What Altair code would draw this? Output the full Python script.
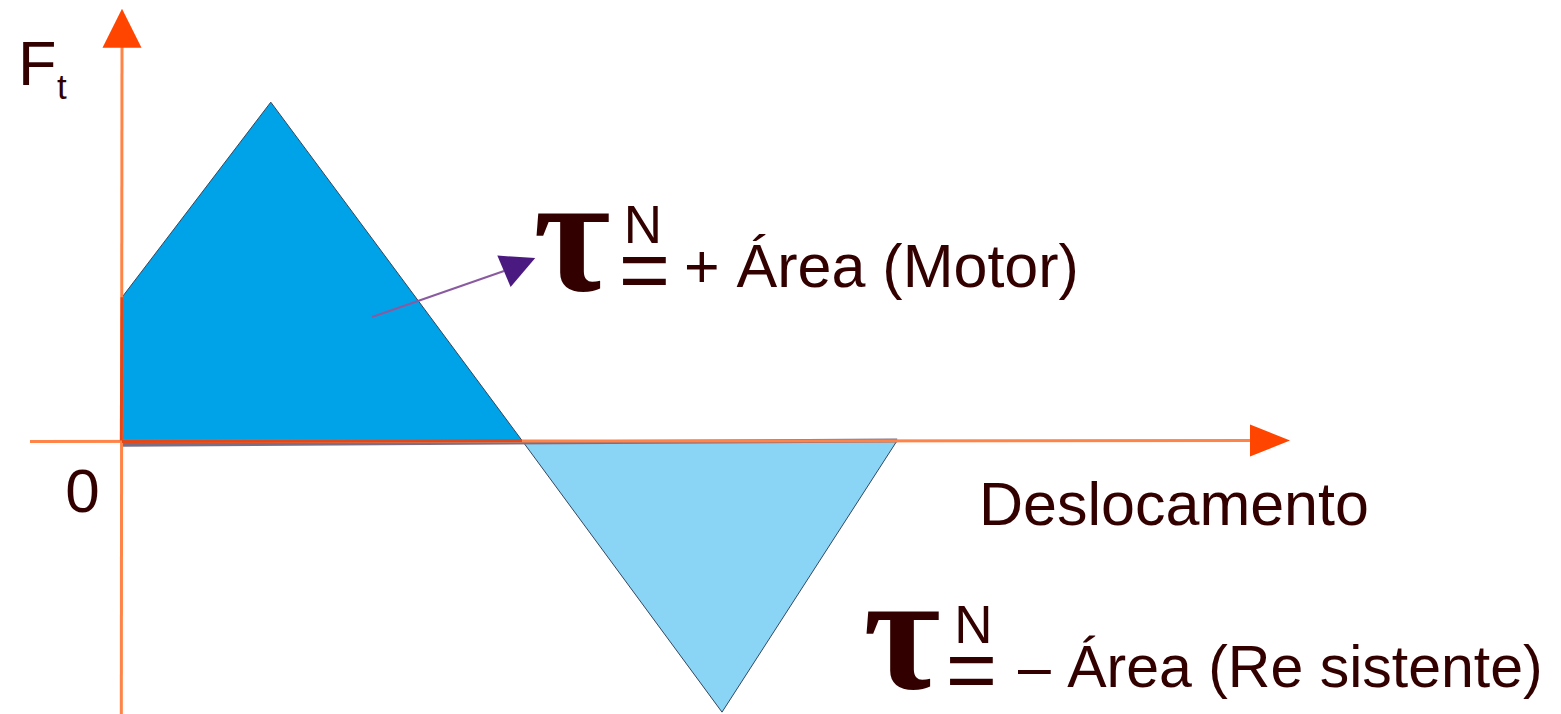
import altair as alt
import pandas as pd

# ---- data (displacement units, force units) ----
motor_x = [0.0, 3.72, 10.0]
motor_y = [4.25, 10.04, 0.0]
resist_x = [10.0, 15.0, 19.38]
resist_y = [0.0, -8.06, 0.0]

# axis extents (in data units)
x_axis_from, x_axis_to = -2.3, 28.33
y_axis_from, y_axis_to = -8.3, 11.74
x_arrow = (28.7, 0.0)
y_arrow = (0.0, 12.23)
# annotation arrow (data units)
ann_from = (6.25, 3.665)
ann_to = (9.55, 5.03)
ann_head = (9.94, 5.22)

W, H = 1545, 706
xs = alt.Scale(domain=[-2.85, 35.775], nice=False, zero=False)
ys = alt.Scale(domain=[12.834 - H / 33.7, 12.834], nice=False, zero=False)

TXT = "#330000"
AX = "#FF8447"
HEAD = "#FF4500"


def X(f="x"):
    return alt.X(f + ":Q", scale=xs, axis=None)


def Y(f="y"):
    return alt.Y(f + ":Q", scale=ys, axis=None)


motor_df = pd.DataFrame({"x": motor_x, "y": motor_y, "y0": [0.0] * len(motor_x)})
resist_df = pd.DataFrame({"x": resist_x, "y": resist_y, "y0": [0.0] * len(resist_x)})

motor = alt.Chart(motor_df).mark_area(
    orient="vertical", color="#00A3E8", stroke="#34475E", strokeWidth=1, opacity=1
).encode(x=X(), y=Y(), y2="y0:Q")

resist = alt.Chart(resist_df).mark_area(
    orient="vertical", color="#8AD4F6", stroke="#34475E", strokeWidth=1, opacity=1
).encode(x=X(), y=Y(), y2="y0:Q")


def rule(x, x2, y, y2, color, width, xoff=0, yoff=0):
    df = pd.DataFrame({"x": [x], "x2": [x2], "y": [y], "y2": [y2]})
    return alt.Chart(df).mark_rule(
        color=color, strokeWidth=width, xOffset=xoff, yOffset=yoff
    ).encode(x=X(), x2="x2:Q", y=Y(), y2="y2:Q")


gray_band = rule(motor_x[0], resist_x[-1], 0, 0, "#7A6E86", 4, yoff=4.2)
x_axis = rule(x_axis_from, x_axis_to, 0, 0, AX, 3, yoff=1)
y_axis = rule(0, 0, y_axis_from, y_axis_to, AX, 3, xoff=-0.7)
red_base = rule(motor_x[0], motor_x[-1], 0, 0, "#E2481A", 3, yoff=1)
red_left = rule(0, 0, 0, motor_y[0], "#E2481A", 3, xoff=-0.7)


def head(pt, path, size, color, angle=0):
    df = pd.DataFrame({"x": [pt[0]], "y": [pt[1]]})
    return alt.Chart(df).mark_point(
        shape=path, size=size, filled=True, color=color, opacity=1,
        strokeWidth=0, angle=angle
    ).encode(x=X(), y=Y())


x_head = head(x_arrow, "M-1,-0.8L1,0L-1,0.8Z", 1600, HEAD)
y_head = head(y_arrow, "M0,-1L1,1L-1,1Z", 1521, HEAD)

ann_line = rule(ann_from[0], ann_to[0], ann_from[1], ann_to[1], "#8A5AA0", 2)
ann_head_m = head(ann_head, "M-1,-1L1,0L-1,1Z", 1156, "#4B1A80", angle=337)


def label(text, px, py, size, align="left", font="Liberation Sans", weight="normal"):
    return alt.Chart(pd.DataFrame({"t": [text]})).mark_text(
        align=align, baseline="alphabetic", fontSize=size, font=font,
        fontWeight=weight, color=TXT
    ).encode(x=alt.value(px - 8), y=alt.value(py - 8), text="t:N")


labels = [
    label("F", 18, 85, 63),
    label("t", 57, 99, 35),
    label("0", 82.5, 512, 62, align="center"),
    label("Deslocamento", 979, 525, 61),
    # motor work
    label("τ", 572, 290, 168, align="center", font="Liberation Serif", weight="bold"),
    label("N", 643, 243, 53, align="center"),
    label("=", 644.5, 300, 88, align="center"),
    label("+ Área (Motor)", 684, 287, 61),
    # resistant work
    label("τ", 902, 688, 168, align="center", font="Liberation Serif", weight="bold"),
    label("N", 973.5, 643, 53, align="center"),
    label("=", 971.5, 700, 88, align="center"),
    label("– Área (Re sistente)", 1018, 687, 59),
]

chart = alt.layer(
    motor, resist, gray_band, x_axis, y_axis, red_base, red_left,
    x_head, y_head, ann_line, ann_head_m, *labels
).properties(
    width=W, height=H, padding=0, autosize=alt.AutoSizeParams(type="none"),
    background="white"
).configure_view(stroke=None)

chart.save("out.html", embed_options={"renderer": "svg", "actions": False})
